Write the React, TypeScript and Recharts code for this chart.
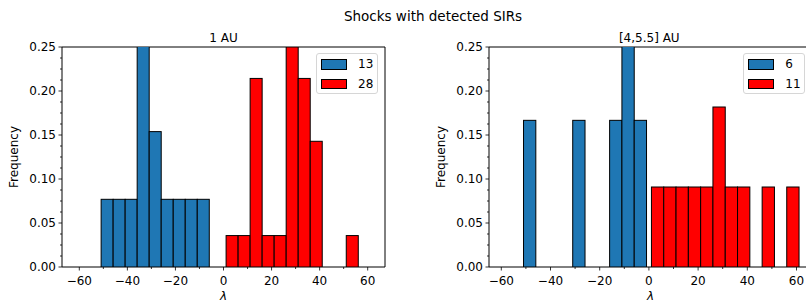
import React from 'react'
import { BarChart, Bar, XAxis, YAxis, ReferenceArea } from 'recharts'

// histogram bins: left edge of each bin (width 5) and counts per bin
const BIN_WIDTH = 5

const blue1Edges = [-51, -46, -41, -36, -31, -26, -21, -16, -11]
const blue1Counts = [1, 1, 1, 4, 2, 1, 1, 1, 1]
const red1Edges = [1, 6, 11, 16, 21, 26, 31, 36, 51]
const red1Counts = [1, 1, 6, 1, 1, 7, 6, 4, 1]

const blue2Edges = [-51, -31, -16, -11, -6]
const blue2Counts = [1, 1, 1, 2, 1]
const red2Edges = [1, 6, 11, 16, 21, 26, 31, 36, 46, 56]
const red2Counts = [1, 1, 1, 1, 1, 2, 1, 1, 1, 1]

const xTicks = [-60, -50, -40, -30, -20, -10, 0, 10, 20, 30, 40, 50, 60]
const yTicks = [0, 0.0125, 0.025, 0.0375, 0.05, 0.0625, 0.075, 0.0875, 0.1, 0.1125, 0.125, 0.1375, 0.15,
  0.1625, 0.175, 0.1875, 0.2, 0.2125, 0.225, 0.2375, 0.25]

const BLUE = '#1f77b4'
const RED = '#ff0000'
const FONT = '"DejaVu Sans", sans-serif'

const PLOT_W = 323
const CHART_W = 400
const CHART_H = 303
const MARGIN = { top: 47, right: 15, left: 0, bottom: 0 }

const sum = (a: number[]) => a.reduce((s, v) => s + v, 0)

function buildRows(edges: number[], counts: number[], color: string) {
  const total = sum(counts)
  return edges.map((e, i) => ({ x: e + BIN_WIDTH / 2, freq: counts[i] / total, color }))
}

const XTick = (props: any) => {
  const { x, y, payload } = props
  const v = payload.value
  const major = v % 20 === 0
  const label = v < 0 ? `\u2212${Math.abs(v)}` : `${v}`
  return (
    <g>
      <line x1={x} x2={x} y1={y} y2={y + (major ? 3.5 : 2)} stroke="#000" strokeWidth={0.8} />
      {major && (
        <text x={x} y={y + 18} textAnchor="middle" fontSize={12} fill="#000" fontFamily={FONT}>
          {label}
        </text>
      )}
    </g>
  )
}

const YTick = (props: any) => {
  const { x, y, payload } = props
  const v = payload.value
  const major = Math.abs(Math.round(v * 20) - v * 20) < 1e-6
  return (
    <g>
      <line x1={x} x2={x - (major ? 3.5 : 2)} y1={y} y2={y} stroke="#000" strokeWidth={0.8} />
      {major && (
        <text x={x - 6} y={y + 4.3} textAnchor="end" fontSize={12} fill="#000" fontFamily={FONT}>
          {v.toFixed(2)}
        </text>
      )}
    </g>
  )
}

function LegendBox({ items }: { items: { label: string; color: string }[] }) {
  return (
    <div style={{
      position: 'absolute', left: 316, top: 53, width: 60, height: 39, background: 'rgba(255,255,255,0.8)',
      border: '1px solid #d6d6d6', borderRadius: 3, fontFamily: FONT, fontSize: 12, color: '#000',
    }}>
      {items.map((l, i) => (
        <div key={l.label} style={{ position: 'absolute', left: 4, top: 5 + i * 19.7, height: 11, display: 'flex', alignItems: 'center' }}>
          <div style={{ width: 24, height: 8.5, background: l.color, border: '1px solid #000' }} />
          <span style={{ marginLeft: 11, lineHeight: '11px' }}>{l.label}</span>
        </div>
      ))}
    </div>
  )
}

function Histogram({ rows, domain }: { rows: any[]; domain: [number, number] }) {
  const binPx = (BIN_WIDTH * PLOT_W) / (domain[1] - domain[0])

  const shape = (p: any) => {
    if (!p.height || p.height <= 0) return null
    const cx = p.x + p.width / 2
    return (
      <rect x={cx - binPx / 2} y={p.y} width={binPx} height={p.height}
        fill={p.payload.color} stroke="#000" strokeWidth={1} />
    )
  }

  return (
    <BarChart width={CHART_W} height={CHART_H} data={rows} margin={MARGIN}>
      <XAxis
        dataKey="x" type="number" domain={domain} allowDataOverflow ticks={xTicks} interval={0}
        tick={<XTick />} tickLine={false} axisLine={false} tickSize={0} tickMargin={0} height={36}
        label={{
          content: (lp: any) => {
            const vb = lp.viewBox
            return (
              <text x={vb.x + vb.width / 2} y={300} textAnchor="middle" fontSize={12} fontStyle="italic" fontFamily={FONT} fill="#000">
                λ
              </text>
            )
          },
        }}
      />
      <YAxis
        type="number" domain={[0, 0.25]} allowDataOverflow ticks={yTicks} interval={0}
        tick={<YTick />} tickLine={false} axisLine={false} tickSize={0} tickMargin={0} width={62}
        label={{
          content: (lp: any) => {
            const vb = lp.viewBox
            const cy = vb.y + vb.height / 2
            return (
              <text x={18} y={cy} transform={`rotate(-90 18 ${cy})`} textAnchor="middle" fontSize={12} fontFamily={FONT} fill="#000">
                Frequency
              </text>
            )
          },
        }}
      />
      <Bar dataKey="freq" shape={shape} isAnimationActive={false} />
      <ReferenceArea x1={domain[0]} x2={domain[1]} y1={0} y2={0.25} fill="none" stroke="#000" strokeWidth={1} fillOpacity={0} />
    </BarChart>
  )
}

const rows1 = [...buildRows(blue1Edges, blue1Counts, BLUE), ...buildRows(red1Edges, red1Counts, RED)]
const rows2 = [...buildRows(blue2Edges, blue2Counts, BLUE), ...buildRows(red2Edges, red2Counts, RED)]

const legend1 = [
  { label: String(sum(blue1Counts)), color: BLUE },
  { label: String(sum(red1Counts)), color: RED },
]
const legend2 = [
  { label: String(sum(blue2Counts)), color: BLUE },
  { label: String(sum(red2Counts)), color: RED },
]

export default function App() {
  return (
    <div style={{ position: 'fixed', left: 0, top: 0, width: 806, height: 303, overflow: 'hidden', background: '#fff' }}>
      <div style={{ position: 'absolute', left: 0, top: 0, width: CHART_W, height: CHART_H }}>
        <Histogram rows={rows1} domain={[-67.2, 67.2]} />
        <LegendBox items={legend1} />
      </div>
      <div style={{ position: 'absolute', left: 427.3, top: 0, width: CHART_W, height: CHART_H }}>
        <Histogram rows={rows2} domain={[-65, 66.3]} />
        <LegendBox items={legend2} />
      </div>
      <svg width={806} height={303} style={{ position: 'absolute', left: 0, top: 0, pointerEvents: 'none' }}>
        <text x={433} y={21} textAnchor="middle" fontSize={13.5} fontFamily={FONT} fill="#000">Shocks with detected SIRs</text>
        <text x={223.5} y={42} textAnchor="middle" fontSize={12} fontFamily={FONT} fill="#000">1 AU</text>
        <text x={649.3} y={42} textAnchor="middle" fontSize={12} fontFamily={FONT} fill="#000">[4,5.5] AU</text>
      </svg>
    </div>
  )
}
